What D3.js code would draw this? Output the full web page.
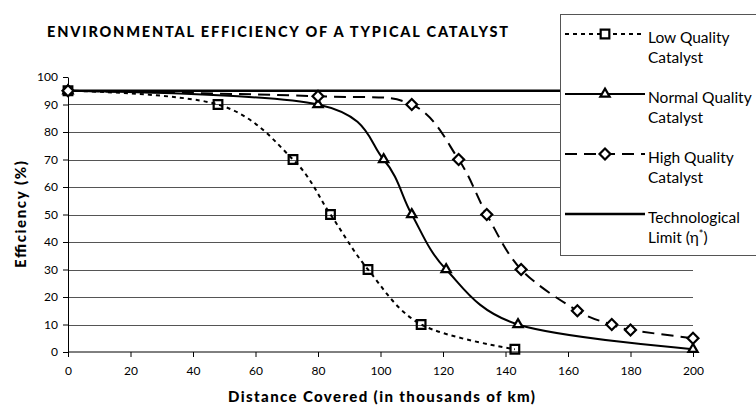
<!DOCTYPE html>
<html>
<head>
<meta charset="utf-8">
<script src="https://cdn.jsdelivr.net/npm/d3@7"></script>
<style>
  body { margin: 0; background: #fff; }
  svg { display: block; }
  .axis text { font-family: Lato, "Open Sans", sans-serif; font-size: 12px; fill: #000; }
  .axis path, .axis line { stroke: #000; }
</style>
</head>
<body>
<div id="viz"></div>
<script>
/* Environmental efficiency chart, redrawn with D3 */

// distance covered (thousands of km) and efficiency (%) per series
var lowX = [0, 48, 72, 84, 96, 113, 143],
    lowY = [95, 90, 70, 50, 30, 10, 1];
var normalX = [0, 80, 101, 110, 121, 144, 200],
    normalY = [95, 90, 70, 50, 30, 10, 1];
var highX = [0, 80, 110, 125, 134, 145, 163, 174, 180, 200],
    highY = [95, 93, 90, 70, 50, 30, 15, 10, 8, 5];
var limitX = [0, 200],
    limitY = [95, 95];

var seriesNames = ['Low Quality|Catalyst', 'Normal Quality|Catalyst', 'High Quality|Catalyst', 'Technological|Limit (η'];
var xTickValues = [0, 20, 40, 60, 80, 100, 120, 140, 160, 180, 200],
    yTickValues = [0, 10, 20, 30, 40, 50, 60, 70, 80, 90, 100],
    gridValues = [10, 20, 30, 40, 50, 60, 70, 80, 90];

var width = 756,
    height = 405,
    margin = { top: 77, right: 63, bottom: 53, left: 68 };

var svg = d3.select('#viz').append('svg')
    .attr('width', width)
    .attr('height', height);

var xScale = d3.scaleLinear()
    .domain([0, 200])
    .range([margin.left, width - margin.right]);

var yScale = d3.scaleLinear()
    .domain([0, 100])
    .range([height - margin.bottom, margin.top]);

function zip(xs, ys) {
  return xs.map(function(d, i) { return [d, ys[i]]; });
}

var series = [
  { name: seriesNames[0], data: zip(lowX, lowY), dash: '4,4', width: 2, marker: 'square' },
  { name: seriesNames[1], data: zip(normalX, normalY), dash: null, width: 2, marker: 'triangle' },
  { name: seriesNames[2], data: zip(highX, highY), dash: '12,7', width: 2, marker: 'diamond' },
  { name: seriesNames[3], data: zip(limitX, limitY), dash: null, width: 2.5, marker: null }
];

// gridlines
svg.append('g')
  .selectAll('line')
  .data(gridValues)
  .enter().append('line')
    .attr('x1', xScale(0))
    .attr('x2', xScale(200))
    .attr('y1', function(d) { return Math.round(yScale(d)) + 0.5; })
    .attr('y2', function(d) { return Math.round(yScale(d)) + 0.5; })
    .attr('stroke', '#555')
    .attr('stroke-width', 1);

// axes
svg.append('g')
  .attr('class', 'axis')
  .attr('transform', 'translate(0,' + yScale(0) + ')')
  .call(d3.axisBottom(xScale).tickValues(xTickValues).tickSize(5).tickPadding(9).tickSizeOuter(0))
  .select('.domain').remove();

svg.append('g')
  .attr('class', 'axis')
  .attr('transform', 'translate(' + xScale(0) + ',0)')
  .call(d3.axisLeft(yScale).tickValues(yTickValues).tickSize(5).tickPadding(5).tickSizeOuter(0));

svg.append('line')
  .attr('x1', xScale(0))
  .attr('x2', xScale(200))
  .attr('y1', yScale(0))
  .attr('y2', yScale(0))
  .attr('stroke', '#000');

var line = d3.line()
    .x(function(d) { return xScale(d[0]); })
    .y(function(d) { return yScale(d[1]); })
    .curve(d3.curveCardinal.tension(0));

var symbols = {
  square: d3.symbol().type(d3.symbolSquare).size(75),
  triangle: d3.symbol().type(d3.symbolTriangle).size(38),
  diamond: d3.symbol().type(d3.symbolSquare).size(60)
};

function addMarker(sel, type) {
  var p = sel.append('path')
    .attr('d', symbols[type]())
    .attr('fill', type == 'square' ? 'none' : '#fff')
    .attr('stroke', '#000')
    .attr('stroke-width', 2.2);
  if (type == 'diamond') p.attr('transform', 'rotate(45)');
  return p;
}

// series lines + markers
series.forEach(function(s) {
  svg.append('path')
    .datum(s.data)
    .attr('fill', 'none')
    .attr('stroke', '#000')
    .attr('stroke-width', s.width)
    .attr('stroke-dasharray', s.dash)
    .attr('d', line);
});

series.forEach(function(s) {
  if (!s.marker) return;
  svg.append('g')
    .selectAll('g')
    .data(s.data)
    .enter().append('g')
      .attr('transform', function(d) { return 'translate(' + xScale(d[0]) + ',' + yScale(d[1]) + ')'; })
      .each(function() { addMarker(d3.select(this), s.marker); });
});

// title
svg.append('text')
  .attr('x', 47)
  .attr('y', 37)
  .attr('font-family', 'Lato, "Open Sans", sans-serif')
  .attr('font-weight', 900)
  .attr('font-size', 14.5)
  .attr('textLength', 461)
  .attr('lengthAdjust', 'spacing')
  .text('ENVIRONMENTAL EFFICIENCY OF A TYPICAL CATALYST');

// axis titles
svg.append('text')
  .attr('x', 228)
  .attr('y', 402)
  .attr('font-family', 'Lato, "Open Sans", sans-serif')
  .attr('font-weight', 900)
  .attr('font-size', 15)
  .attr('textLength', 307)
  .attr('lengthAdjust', 'spacing')
  .text('Distance Covered (in thousands of km)');

svg.append('text')
  .attr('transform', 'translate(26,268) rotate(-90)')
  .attr('font-family', 'Lato, "Open Sans", sans-serif')
  .attr('font-weight', 900)
  .attr('font-size', 15)
  .attr('textLength', 107)
  .attr('lengthAdjust', 'spacing')
  .text('Efficiency (%)');

// legend
var legend = svg.append('g');

legend.append('rect')
  .attr('x', 560.5)
  .attr('y', 14.5)
  .attr('width', 220)
  .attr('height', 241)
  .attr('fill', '#fff')
  .attr('stroke', '#555')
  .attr('stroke-width', 1);

var items = legend.selectAll('g.item')
  .data(series)
  .enter().append('g')
    .attr('class', 'item')
    .attr('transform', function(d, i) { return 'translate(0,' + (34 + i * 60) + ')'; });

items.append('line')
  .attr('x1', 565)
  .attr('x2', 645)
  .attr('stroke', '#000')
  .attr('stroke-width', function(d) { return d.width; })
  .attr('stroke-dasharray', function(d) { return d.dash; });

items.each(function(d) {
  if (!d.marker) return;
  var m = d3.select(this).append('g').attr('transform', 'translate(605,0)');
  addMarker(m, d.marker).attr('fill', '#fff');
});

var labels = items.append('text')
  .attr('font-family', 'Lato, "Open Sans", sans-serif')
  .attr('font-size', 15.5);

labels.append('tspan')
  .attr('x', 648)
  .attr('y', 9)
  .text(function(d) { return d.name.split('|')[0]; });

labels.append('tspan')
  .attr('x', 648)
  .attr('y', 29)
  .text(function(d) { return d.name.split('|')[1]; });

// superscript for the limit label
labels.filter(function(d, i) { return i == 3; })
  .append('tspan')
  .attr('font-size', 11)
  .attr('dy', -5)
  .text('*');
labels.filter(function(d, i) { return i == 3; })
  .append('tspan')
  .attr('dy', 5)
  .text(')');
</script>
</body>
</html>
